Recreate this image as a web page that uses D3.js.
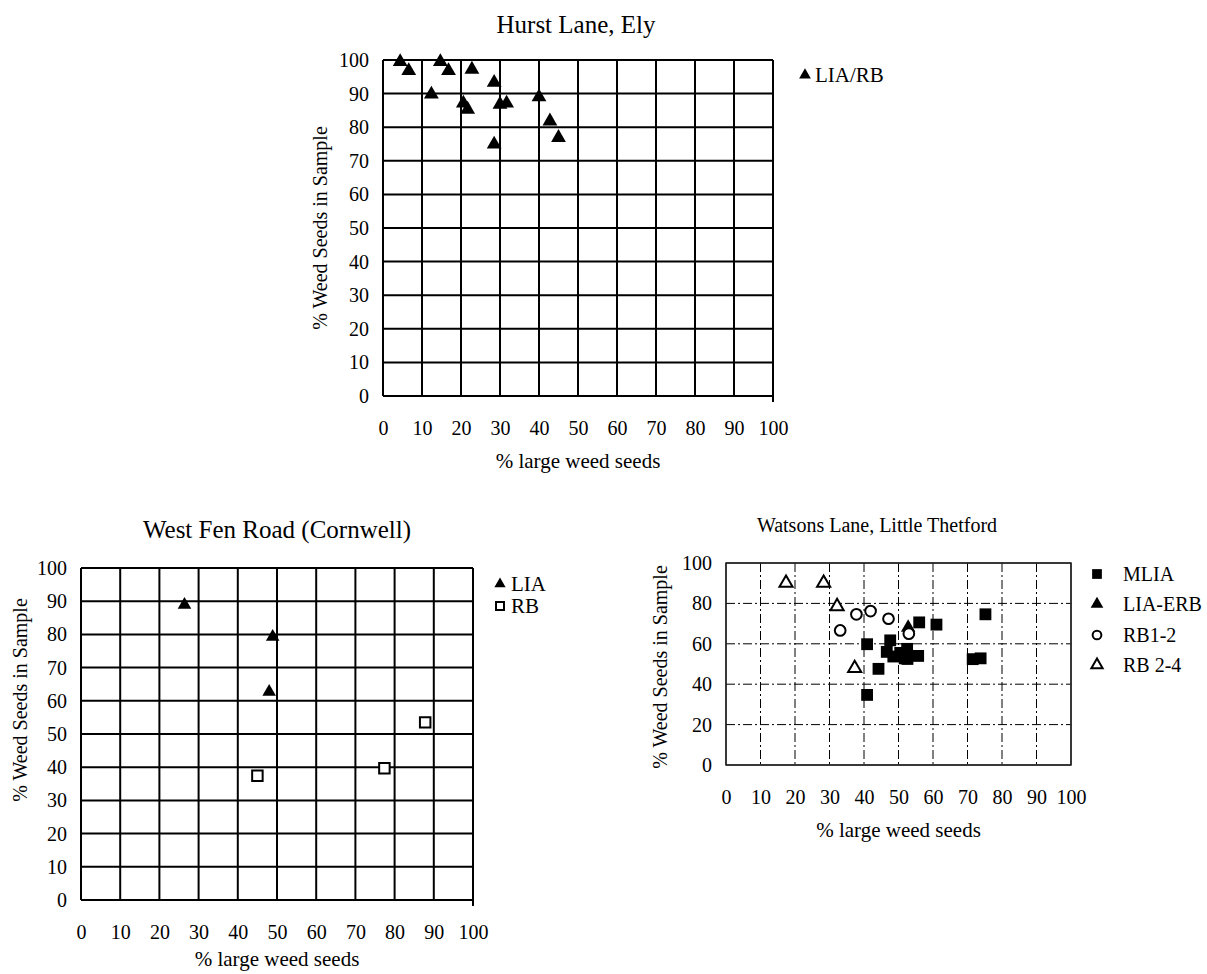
<!DOCTYPE html>
<html>
<head>
<meta charset="utf-8">
<script src="https://cdn.jsdelivr.net/npm/d3@7"></script>
<style>
  body { margin: 0; background: #fff; }
  svg { display: block; }
  text { font-family: "Liberation Serif", "Times New Roman", serif; fill: #000; }
</style>
</head>
<body>
<svg id="chart" width="1207" height="974"></svg>
<script>
// tick values
const ticks10 = d3.range(0, 101, 10);
const ticks20 = d3.range(0, 101, 20);

// Hurst Lane, Ely  [% large weed seeds, % weed seeds in sample]
const hurstLIARB = [
  [4.4, 99.5], [6.6, 96.8], [14.7, 99.5], [16.8, 96.8], [22.8, 97.2],
  [28.5, 93.3], [12.4, 89.8], [20.6, 87.1], [21.7, 85.3], [30, 86.8],
  [31.7, 87.1], [40, 89], [42.8, 81.8], [45, 76.9], [28.5, 74.9]
];

// West Fen Road (Cornwell)
const westFenLIA = [[26.4, 88.9], [48.9, 79.3], [48, 62.7]];
const westFenRB = [[45, 37.4], [77.4, 39.7], [87.8, 53.5]];

// Watsons Lane, Little Thetford
const watsonsMLIA = [
  [40.9, 59.8], [40.9, 34.7], [44.2, 47.6], [46.6, 56], [47.6, 61.7],
  [48.5, 53.7], [50.5, 55.5], [51.8, 52.8], [52.5, 57.5], [52.6, 52.5],
  [55.7, 54], [56, 70.6], [61, 69.5], [71.5, 52.4], [73.8, 52.8], [75.2, 74.6]
];
const watsonsLIAERB = [[52.8, 68]];
const watsonsRB12 = [[33.1, 66.6], [37.8, 74.6], [41.9, 76.2], [47.1, 72.4], [53, 65]];
const watsonsRB24 = [[17.4, 90.1], [28.3, 90.1], [32.2, 78.5], [37.3, 47.9]];

const svg = d3.select("#chart");

const sym = {
  tri: d3.symbolTriangle,
  square: d3.symbolSquare,
  circle: d3.symbolCircle
};

function drawPanel(p) {
  const x = d3.scaleLinear().domain([0, 100]).range([p.left, p.right]);
  const y = d3.scaleLinear().domain([0, 100]).range([p.bottom, p.top]);
  const g = svg.append("g");

  // grid
  const grid = g.append("g");
  grid.selectAll("line.v").data(p.xTicks).enter().append("line")
    .attr("x1", d => x(d)).attr("x2", d => x(d))
    .attr("y1", y(100)).attr("y2", d => d === 100 && p.solid ? y(0) + 6 : y(0))
    .attr("stroke", "#000")
    .attr("stroke-width", p.gridWidth)
    .attr("stroke-dasharray", d => (p.dashed && d > 0 && d < 100) ? "9,3,2,3" : null);
  grid.selectAll("line.h").data(p.yTicks).enter().append("line")
    .attr("y1", d => y(d)).attr("y2", d => y(d))
    .attr("x1", x(0)).attr("x2", x(100))
    .attr("stroke", "#000")
    .attr("stroke-width", p.gridWidth)
    .attr("stroke-dasharray", d => (p.dashed && d > 0 && d < 100) ? "9,3,2,3" : null);
  if (p.dashed) {
    g.append("rect")
      .attr("x", x(0)).attr("y", y(100))
      .attr("width", x(100) - x(0)).attr("height", y(0) - y(100))
      .attr("fill", "none").attr("stroke", "#222").attr("stroke-width", 1.5);
  }

  // axes (labels only)
  const ax = g.append("g")
    .attr("transform", `translate(0,${p.bottom})`)
    .call(d3.axisBottom(x).tickValues(p.xTicks).tickSize(0).tickPadding(25));
  const ay = g.append("g")
    .attr("transform", `translate(${p.left},0)`)
    .call(d3.axisLeft(y).tickValues(p.yTicks).tickSize(0).tickPadding(14));
  [ax, ay].forEach(a => {
    a.select(".domain").remove();
    a.attr("font-family", null).attr("font-size", null);
    a.selectAll("text").attr("font-size", p.tickFont).attr("fill", "#000");
  });

  // titles
  g.append("text")
    .attr("x", p.titleX).attr("y", p.titleY)
    .attr("text-anchor", "middle").attr("font-size", p.titleFont)
    .text(p.title);
  g.append("text")
    .attr("x", (p.left + p.right) / 2).attr("y", p.xTitleY)
    .attr("text-anchor", "middle").attr("font-size", 21)
    .text("% large weed seeds");
  g.append("text")
    .attr("transform", `translate(${p.yTitleX},${p.yTitleY}) rotate(-90)`)
    .attr("text-anchor", "middle").attr("font-size", 20)
    .text("% Weed Seeds in Sample");

  // series
  p.series.forEach(s => {
    g.append("g").selectAll("path").data(s.data).enter().append("path")
      .attr("transform", d => `translate(${x(d[0])},${y(d[1])})`)
      .attr("d", d3.symbol().type(sym[s.shape]).size(s.size))
      .attr("fill", s.filled ? "#000" : "#fff")
      .attr("stroke", "#000")
      .attr("stroke-width", s.filled ? 0 : 2);
  });

  // legend
  p.series.forEach((s, i) => {
    const ly = p.legendY[i];
    g.append("path")
      .attr("transform", `translate(${p.legendX},${ly})`)
      .attr("d", d3.symbol().type(sym[s.shape]).size(s.legendSize))
      .attr("fill", s.filled ? "#000" : "#fff")
      .attr("stroke", "#000")
      .attr("stroke-width", s.filled ? 0 : 2);
    g.append("text")
      .attr("x", p.legendX + p.legendGap).attr("y", ly + 7)
      .attr("font-size", p.legendFont)
      .text(s.name);
  });
}

drawPanel({
  title: "Hurst Lane, Ely", titleX: 576, titleY: 33, titleFont: 25,
  left: 383, right: 773, top: 60, bottom: 396,
  xTicks: ticks10, yTicks: ticks10, solid: true, dashed: false, gridWidth: 2,
  tickFont: 20, xTitleY: 468, yTitleX: 327, yTitleY: 228,
  legendX: 805, legendY: [75], legendGap: 10, legendFont: 21,
  series: [
    { name: "LIA/RB", data: hurstLIARB, shape: "tri", filled: true, size: 95, legendSize: 60 }
  ]
});

drawPanel({
  title: "West Fen Road  (Cornwell)", titleX: 277, titleY: 538, titleFont: 25,
  left: 81, right: 473, top: 568, bottom: 900,
  xTicks: ticks10, yTicks: ticks10, solid: true, dashed: false, gridWidth: 2,
  tickFont: 20, xTitleY: 966, yTitleX: 27, yTitleY: 700,
  legendX: 500, legendY: [584, 606], legendGap: 11, legendFont: 21,
  series: [
    { name: "LIA", data: westFenLIA, shape: "tri", filled: true, size: 80, legendSize: 55 },
    { name: "RB", data: westFenRB, shape: "square", filled: false, size: 110, legendSize: 64 }
  ]
});

drawPanel({
  title: "Watsons Lane, Little Thetford", titleX: 877, titleY: 532, titleFont: 20,
  left: 726, right: 1071, top: 563, bottom: 765,
  xTicks: ticks10, yTicks: ticks20, solid: false, dashed: true, gridWidth: 1,
  tickFont: 20, xTitleY: 837, yTitleX: 667, yTitleY: 667,
  legendX: 1097, legendY: [574, 604, 635, 665], legendGap: 26, legendFont: 20,
  series: [
    { name: "MLIA", data: watsonsMLIA, shape: "square", filled: true, size: 140, legendSize: 95 },
    { name: "LIA-ERB", data: watsonsLIAERB, shape: "tri", filled: true, size: 90, legendSize: 70 },
    { name: "RB1-2", data: watsonsRB12, shape: "circle", filled: false, size: 90, legendSize: 60 },
    { name: "RB 2-4", data: watsonsRB24, shape: "tri", filled: false, size: 75, legendSize: 55 }
  ]
});
</script>
</body>
</html>
